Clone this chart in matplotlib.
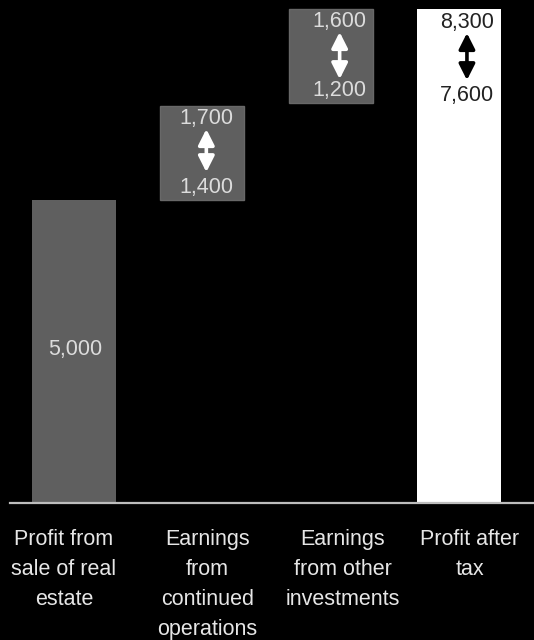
import matplotlib
matplotlib.use("Agg")
import matplotlib.pyplot as plt
import matplotlib.transforms as mtransforms

plt.rcParams['font.family'] = ['Liberation Sans', 'DejaVu Sans']

# categories along the x axis
categories = ["Profit from\nsale of real\nestate",
              "Earnings\nfrom\ncontinued\noperations",
              "Earnings\nfrom other\ninvestments",
              "Profit after\ntax"]

# first bar: a single known value
base_value = 5000

# floating range boxes (middle steps) and the final bar
box_bottom = [5000, 6600]
box_top = [6550, 8150]
range_low = [1400, 1200]
range_high = [1700, 1600]

final_top = 8150
final_low = 7600
final_high = 8300

GREY = "#5f5f5f"
TXT = "#dcdcdc"
FS = 15.5

# small horizontal nudges (pixels) for text inside bars and for category labels
inner_dx = [1, 4, 9, 8]
label_dx = [-10, 5, 12, 11]

fig = plt.figure(figsize=(5.34, 6.4), dpi=100, facecolor="black")
ax = fig.add_axes([0, 0.2136, 1, 0.7864], facecolor="black")
ax.set_xlim(-0.577, 3.585)
ax.set_ylim(0, 8300)
ax.axis("off")

w = 0.655


def shifted(dx_px, dy_px):
    return mtransforms.offset_copy(ax.transData, fig=fig, x=dx_px, y=dy_px, units="dots")


def range_arrow(x, y, dx, top_px, bot_px, color):
    ax.annotate("", xy=(x, y), xycoords=shifted(dx, -top_px),
                xytext=(x, y), textcoords=shifted(dx, -bot_px),
                arrowprops=dict(arrowstyle="<|-|>,head_length=0.95,head_width=0.48",
                                color=color, lw=2.6, shrinkA=0, shrinkB=0))


# first bar
ax.bar(0, base_value, width=w, color=GREY, edgecolor="none")
ax.text(0, base_value / 2, f"{base_value:,}", ha="center", va="center",
        color=TXT, fontsize=FS, transform=shifted(inner_dx[0], 2))

# range boxes
for i in range(2):
    x = i + 1
    dx = inner_dx[x]
    ax.bar(x, box_top[i] - box_bottom[i], bottom=box_bottom[i], width=w,
           color=GREY, edgecolor="#686868", linewidth=1)
    ax.text(x, box_top[i], f"{range_high[i]:,}", ha="center", va="center",
            color=TXT, fontsize=FS, transform=shifted(dx, -12))
    ax.text(x, box_bottom[i], f"{range_low[i]:,}", ha="center", va="center",
            color=TXT, fontsize=FS, transform=shifted(dx, 13))
    range_arrow(x, box_top[i], dx, 23, 66 if i == 0 else 70, "white")

# final bar
ax.bar(3, final_top, width=w, color="white", edgecolor="none")
ax.text(3, final_top, f"{final_high:,}", ha="center", va="center",
        color="#222222", fontsize=FS, transform=shifted(inner_dx[3], -13))
ax.text(3, final_top, f"{final_low:,}", ha="center", va="center",
        color="#222222", fontsize=FS, transform=shifted(inner_dx[3], -86))
range_arrow(3, final_top, inner_dx[3], 24, 71, "black")

# baseline
ax.plot([-0.5, 3.585], [0, 0], color="#bdbdbd", lw=1.6, clip_on=False)

# category labels under the baseline
for i, label in enumerate(categories):
    ax.text(i, 0, label, ha="center", va="top", color="#e6e6e6",
            fontsize=FS, linespacing=1.56, transform=shifted(label_dx[i], -26))

fig.savefig("out.png", dpi=100, facecolor="black")
